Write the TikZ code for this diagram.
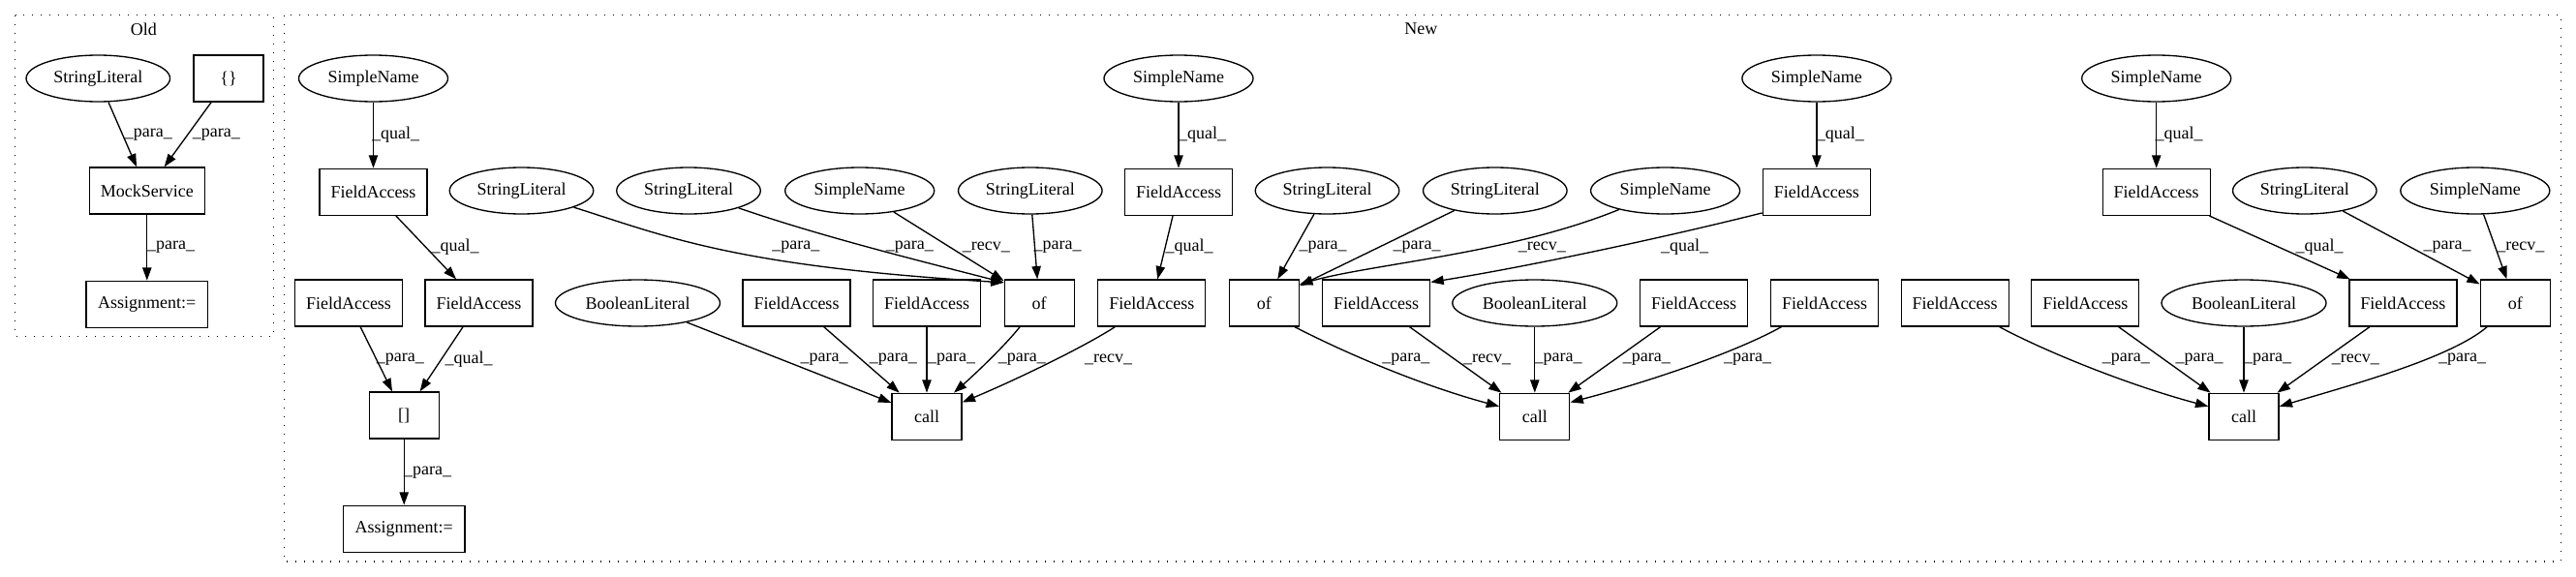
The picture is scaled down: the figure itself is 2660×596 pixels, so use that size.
\documentclass[tikz,border=0pt]{standalone}
\usepackage{fontspec}
\setmainfont{Liberation Serif}
\usetikzlibrary{positioning,shapes.geometric,arrows.meta}

\newcommand{\gvfont}{\fontsize{13.5pt}{16pt}\selectfont}

\tikzset{
	gbox/.style={draw=black,line width=1pt,minimum height=36pt,inner sep=0pt,font=\gvfont},
	goval/.style={draw=black,ellipse,line width=1pt,minimum height=36pt,inner sep=0pt,font=\gvfont},
	fabox/.style={gbox,minimum width=83.25pt},
	sbox/.style={gbox,minimum width=54pt},
	slit/.style={goval,minimum width=111.4pt},
	sname/.style={goval,minimum width=115.5pt},
	blit/.style={goval,minimum width=127.5pt},
	arr/.style={line width=1pt,-{Triangle[length=10pt,width=7pt]}},
	lab/.style={font=\gvfont,inner sep=0pt},
	clus/.style={line width=1pt,dash pattern=on 1pt off 5.75pt},
}

\begin{document}
\begin{tikzpicture}[x=0.75pt,y=-0.75pt]
		\useasboundingbox (0,0) rectangle (2660,596);
		
		\draw[clus] (15.7,15.7) rectangle (282.7,347.3);
		\node[lab] (old) at (148.3,30) {Old};
		\draw[clus] (293.3,15.7) rectangle (2644.4,580);
		\node[lab] (new) at (1467.4,30) {New};
		
		% old
		\node[slit] (osl) at (101.3,81) {StringLiteral};
		\node[sbox] (obr) at (236,81) {\{\}};
		\node[gbox,minimum width=89.25pt] (oms) at (151.8,197) {MockService};
		\node[gbox,minimum width=94.3pt,below=51pt of oms] (oas) {Assignment:=};
		
		\draw[arr] (osl)--(oms) node[lab] at (153.3,139.3) {\_para\_};
		\draw[arr] (obr)--(oms) node[lab] at (223.3,139.3) {\_para\_};
		\draw[arr] (oms)--(oas) node[lab] at (176.7,255) {\_para\_};
		
		% new, assignment
		\node[sname] (sn1) at (385.5,81) {SimpleName};
		\node[fabox,below=51pt of sn1] (fa1) {FieldAccess};
		\node[fabox] (fa2) at (360,313) {FieldAccess};
		\node[fabox] (fa3) at (494.5,313) {FieldAccess};
		\node[sbox] (idx) at (417.2,429) {[]};
		\node[gbox,minimum width=94.3pt,below=51pt of idx] (asg) {Assignment:=};
		
		\draw[arr] (sn1)--(fa1) node[lab] at (408.5,139) {\_qual\_};
		\draw[arr] (fa1)--(fa3) node[lab] at (470,255) {\_qual\_};
		\draw[arr] (fa2)--(idx) node[lab] at (413.3,371) {\_para\_};
		\draw[arr] (fa3)--(idx) node[lab] at (484,371) {\_qual\_};
		\draw[arr] (idx)--(asg) node[lab] at (441.7,487.7) {\_para\_};
		
		% new, first call
		\node[slit] (sl1) at (538.5,197) {StringLiteral};
		\node[slit] (sl2) at (711,197) {StringLiteral};
		\node[sname] (sn2) at (887.7,197) {SimpleName};
		\node[slit] (sl3) at (1063.8,197) {StringLiteral};
		\node[sname] (sn3) at (1217,81) {SimpleName};
		\node[fabox,below=51pt of sn3] (fa4) {FieldAccess};
		\node[blit] (bl1) at (658.5,313) {BooleanLiteral};
		\node[fabox] (fa5) at (822.5,313) {FieldAccess};
		\node[fabox] (fa6) at (957,313) {FieldAccess};
		\node[sbox] (of1) at (1073.2,313) {of};
		\node[fabox] (fa7) at (1189.3,313) {FieldAccess};
		\node[sbox,below=51pt of fa6] (call1) {call};
		
		\draw[arr] (sl1) .. controls (690,245) and (760,275) .. (of1.150) node[lab] at (821.9,255) {\_para\_};
		\draw[arr] (sl2) .. controls (850,245) and (960,272) .. (of1.150) node[lab] at (939.3,255) {\_para\_};
		\draw[arr] (sn2)--(of1) node[lab] at (1018.3,255) {\_recv\_};
		\draw[arr] (sl3)--(of1) node[lab] at (1092,255) {\_para\_};
		\draw[arr] (sn3)--(fa4) node[lab] at (1241.5,139) {\_qual\_};
		\draw[arr] (fa4)--(fa7) node[lab] at (1228,255) {\_qual\_};
		\draw[arr] (bl1)--(call1) node[lab] at (851,371) {\_para\_};
		\draw[arr] (fa5)--(call1) node[lab] at (922.3,371) {\_para\_};
		\draw[arr] (fa6)--(call1) node[lab] at (982.6,371) {\_para\_};
		\draw[arr] (of1) .. controls (1035,360) and (1005,388) .. (call1) node[lab] at (1055.4,371) {\_para\_};
		\draw[arr] (fa7) .. controls (1120,358) and (1050,392) .. (call1.22) node[lab] at (1144.6,371) {\_recv\_};
		
		% new, second call
		\node[slit] (sl4) at (1370.5,197) {StringLiteral};
		\node[slit] (sl5) at (1543.8,197) {StringLiteral};
		\node[sname] (sn4) at (1719.6,197) {SimpleName};
		\node[sname] (sn5) at (1875.9,81) {SimpleName};
		\node[fabox,below=51pt of sn5] (fa8) {FieldAccess};
		\node[sbox] (of2) at (1305.4,313) {of};
		\node[fabox] (fa9) at (1421.2,313) {FieldAccess};
		\node[blit] (bl2) at (1584.8,313) {BooleanLiteral};
		\node[fabox] (fa10) at (1749.1,313) {FieldAccess};
		\node[fabox] (fa11) at (1884,313) {FieldAccess};
		\node[sbox,below=51pt of bl2] (call2) {call};
		
		\draw[arr] (sl4)--(of2) node[lab] at (1366,255) {\_para\_};
		\draw[arr] (sl5)--(of2) node[lab] at (1463,255) {\_para\_};
		\draw[arr] (sn4) .. controls (1560,262) and (1420,272) .. (of2.28) node[lab] at (1592.4,255) {\_recv\_};
		\draw[arr] (sn5)--(fa8) node[lab] at (1900.4,139) {\_qual\_};
		\draw[arr] (fa8.201) .. controls (1720,245) and (1580,275) .. (fa9.21) node[lab] at (1739.7,255) {\_qual\_};
		\draw[arr] (of2.-38) .. controls (1380,360) and (1460,396) .. (call2.164) node[lab] at (1451.8,371) {\_para\_};
		\draw[arr] (fa9)--(call2) node[lab] at (1535.7,371) {\_recv\_};
		\draw[arr] (bl2)--(call2) node[lab] at (1609,371) {\_para\_};
		\draw[arr] (fa10)--(call2) node[lab] at (1700.4,371) {\_para\_};
		\draw[arr] (fa11) .. controls (1790,365) and (1700,395) .. (call2.22) node[lab] at (1804.5,371) {\_para\_};
		
		% new, third call
		\node[sname] (sn6) at (2226.7,81) {SimpleName};
		\node[fabox,below=51pt of sn6] (fa12) {FieldAccess};
		\node[slit] (sl6) at (2379.8,197) {StringLiteral};
		\node[sname] (sn7) at (2555.8,197) {SimpleName};
		\node[fabox] (fa13) at (2018.7,313) {FieldAccess};
		\node[fabox] (fa14) at (2153.3,313) {FieldAccess};
		\node[blit] (bl3) at (2317,313) {BooleanLiteral};
		\node[fabox] (fa15) at (2481.4,313) {FieldAccess};
		\node[sbox] (of3) at (2597.3,313) {of};
		\node[sbox,below=51pt of bl3] (call3) {call};
		
		\draw[arr] (sn6)--(fa12) node[lab] at (2250,139) {\_qual\_};
		\draw[arr] (fa12)--(fa15) node[lab] at (2395,255) {\_qual\_};
		\draw[arr] (sl6)--(of3) node[lab] at (2527,255) {\_para\_};
		\draw[arr] (sn7)--(of3) node[lab] at (2602.9,255) {\_recv\_};
		\draw[arr] (fa13) .. controls (2110,362) and (2195,397) .. (call3.164) node[lab] at (2195.3,371) {\_para\_};
		\draw[arr] (fa14)--(call3) node[lab] at (2271,371) {\_para\_};
		\draw[arr] (bl3)--(call3) node[lab] at (2341.7,371) {\_para\_};
		\draw[arr] (fa15)--(call3) node[lab] at (2432.3,371) {\_recv\_};
		\draw[arr] (of3) .. controls (2530,370) and (2430,397) .. (call3.16) node[lab] at (2542.6,371) {\_para\_};
\end{tikzpicture}
\end{document}
